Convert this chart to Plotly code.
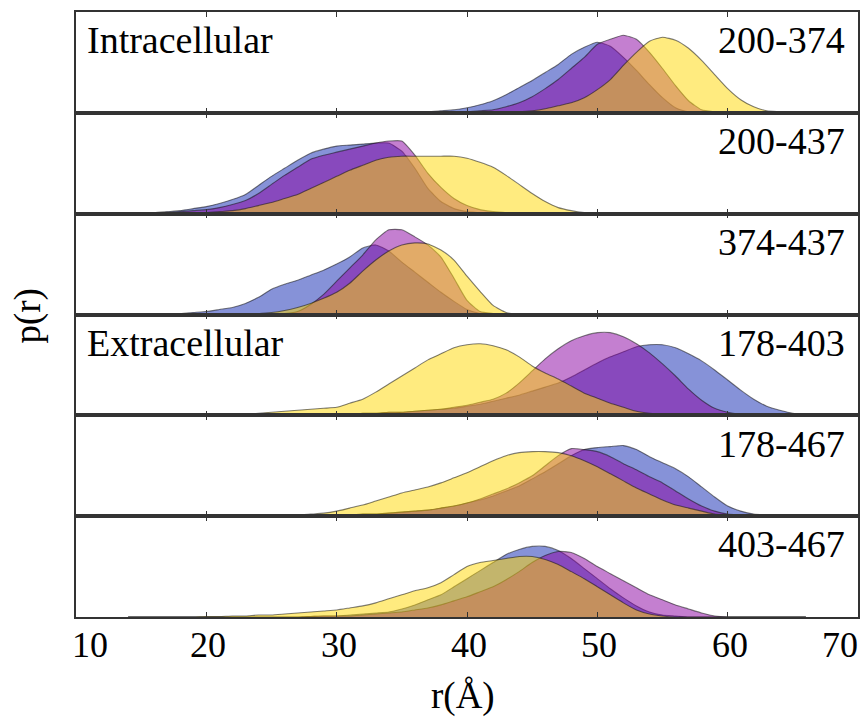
import plotly.graph_objects as go
from plotly.subplots import make_subplots

# distance grid r (Å), 14..66
R = list(range(14, 67))

PAIR_LABELS = ["200-374", "200-437", "374-437", "178-403", "178-467", "403-467"]
REGION_LABELS = ["Intracellular", "", "", "Extracellular", "", ""]
X_TICKS = [10, 20, 30, 40, 50, 60, 70]
X_TICK_TEXT = ["10", "20", "30", "40", "50", "60", "70"]

# ---- 200-374 ----
P1_BLUE = [0]*20 + [0, 0, 0.01, 0.01, 0.02, 0.03, 0.05, 0.08, 0.12, 0.18,
                    0.25, 0.32, 0.40, 0.48, 0.58, 0.65, 0.70, 0.66, 0.55, 0.42,
                    0.28, 0.15, 0.05, 0.01, 0, 0, 0, 0, 0, 0, 0, 0, 0]
P1_PURPLE = [0]*20 + [0, 0, 0, 0, 0, 0, 0.01, 0.02, 0.03, 0.06,
                      0.10, 0.16, 0.24, 0.33, 0.44, 0.55, 0.68, 0.73, 0.77, 0.73,
                      0.60, 0.44, 0.27, 0.12, 0.03, 0.01, 0, 0, 0, 0, 0, 0, 0]
P1_YELLOW = [0]*30 + [0.01, 0.02, 0.04, 0.07, 0.10, 0.15, 0.23, 0.33, 0.47, 0.60,
                      0.71, 0.75, 0.72, 0.64, 0.52, 0.38, 0.24, 0.13, 0.06, 0.02,
                      0.01, 0, 0]

# ---- 200-437 ----
P2_BLUE = [0, 0.01, 0.01, 0.02, 0.03, 0.05, 0.07, 0.10, 0.14, 0.19,
           0.28, 0.37, 0.45, 0.53, 0.60, 0.64, 0.67, 0.68, 0.69, 0.70,
           0.70, 0.62, 0.45, 0.25, 0.12, 0.05, 0.02, 0.01, 0, 0] + [0]*23
P2_PURPLE = [0, 0, 0.01, 0.01, 0.02, 0.03, 0.04, 0.06, 0.09, 0.13,
             0.20, 0.29, 0.38, 0.46, 0.54, 0.58, 0.61, 0.64, 0.67, 0.70,
             0.72, 0.72, 0.58, 0.40, 0.26, 0.15, 0.08, 0.04, 0.02, 0.01] + [0]*23
P2_YELLOW = [0, 0, 0, 0, 0, 0.01, 0.01, 0.02, 0.03, 0.05,
             0.08, 0.11, 0.15, 0.19, 0.25, 0.31, 0.37, 0.43, 0.48, 0.53,
             0.56, 0.57, 0.57, 0.57, 0.57, 0.57, 0.55, 0.51, 0.46, 0.38,
             0.29, 0.20, 0.12, 0.06, 0.03, 0.01, 0, 0, 0, 0] + [0]*13

# ---- 374-437 ----
P3_BLUE = [0, 0, 0, 0.01, 0.01, 0.02, 0.03, 0.05, 0.07, 0.11,
           0.17, 0.25, 0.30, 0.34, 0.39, 0.44, 0.50, 0.57, 0.66, 0.69,
           0.63, 0.52, 0.42, 0.32, 0.22, 0.13, 0.05, 0.01, 0, 0] + [0]*23
P3_PURPLE = [0]*10 + [0, 0, 0.01, 0.03, 0.10, 0.20, 0.33, 0.46, 0.59, 0.74,
                      0.84, 0.84, 0.77, 0.69, 0.57, 0.36, 0.14, 0.03, 0.01, 0] + [0]*23
P3_YELLOW = [0]*10 + [0.01, 0.02, 0.04, 0.07, 0.11, 0.16, 0.22, 0.31, 0.43, 0.54,
                      0.63, 0.69, 0.71, 0.70, 0.64, 0.54, 0.38, 0.23, 0.09, 0.02] + [0]*23

# ---- 178-403 ----
P4_BLUE = [0]*10 + [0, 0, 0, 0, 0.01, 0.01, 0.01, 0.01, 0.02, 0.02,
                    0.03, 0.03, 0.04, 0.05, 0.06, 0.07, 0.09, 0.11, 0.14, 0.17,
                    0.20, 0.24, 0.28, 0.32, 0.38, 0.45, 0.52, 0.58, 0.63, 0.68,
                    0.70, 0.70, 0.67, 0.61, 0.54, 0.45, 0.35, 0.25, 0.16, 0.09,
                    0.05, 0.02, 0.01]
P4_PURPLE = [0]*10 + [0, 0, 0, 0, 0, 0, 0.01, 0.01, 0.02, 0.02,
                      0.03, 0.03, 0.04, 0.05, 0.06, 0.08, 0.10, 0.13, 0.16, 0.22,
                      0.32, 0.44, 0.56, 0.66, 0.74, 0.79, 0.82, 0.82, 0.78, 0.71,
                      0.62, 0.51, 0.39, 0.26, 0.15, 0.07, 0.03, 0.01, 0, 0,
                      0, 0, 0]
P4_YELLOW = [0, 0, 0, 0, 0, 0, 0.01, 0.01, 0.01, 0.01,
             0.02, 0.03, 0.04, 0.05, 0.06, 0.07, 0.08, 0.12, 0.16, 0.23,
             0.31, 0.39, 0.47, 0.55, 0.61, 0.67, 0.70, 0.71, 0.69, 0.65,
             0.58, 0.49, 0.42, 0.36, 0.29, 0.22, 0.17, 0.12, 0.08, 0.04,
             0.02, 0.01, 0, 0, 0, 0, 0, 0, 0, 0,
             0, 0, 0]

# ---- 178-467 ----
P5_BLUE = [0]*10 + [0, 0, 0, 0, 0.005, 0.01, 0.01, 0.01, 0.02, 0.02,
                    0.03, 0.04, 0.05, 0.06, 0.08, 0.10, 0.13, 0.16, 0.20, 0.25,
                    0.30, 0.37, 0.44, 0.52, 0.60, 0.66, 0.68, 0.69, 0.70, 0.66,
                    0.59, 0.53, 0.47, 0.39, 0.29, 0.19, 0.10, 0.05, 0.02, 0.01,
                    0, 0, 0]
P5_PURPLE = [0]*10 + [0, 0, 0, 0, 0.005, 0.01, 0.01, 0.01, 0.02, 0.02,
                      0.03, 0.04, 0.05, 0.06, 0.08, 0.10, 0.13, 0.17, 0.22, 0.27,
                      0.33, 0.40, 0.50, 0.60, 0.67, 0.66, 0.64, 0.59, 0.52, 0.46,
                      0.39, 0.33, 0.25, 0.17, 0.10, 0.05, 0.02, 0.01, 0, 0,
                      0, 0, 0]
P5_YELLOW = [0, 0, 0, 0, 0, 0, 0, 0, 0, 0.005,
             0.005, 0.01, 0.01, 0.01, 0.02, 0.03, 0.05, 0.08, 0.11, 0.15,
             0.19, 0.23, 0.26, 0.29, 0.33, 0.38, 0.43, 0.49, 0.55, 0.60,
             0.63, 0.64, 0.64, 0.63, 0.60, 0.55, 0.49, 0.42, 0.35, 0.28,
             0.22, 0.16, 0.11, 0.08, 0.05, 0.02, 0.01, 0, 0, 0,
             0, 0, 0]

# ---- 403-467 ----
P6_BLUE = [0]*10 + [0, 0, 0, 0, 0.005, 0.01, 0.01, 0.02, 0.03, 0.04,
                    0.05, 0.08, 0.12, 0.17, 0.22, 0.30, 0.38, 0.46, 0.54, 0.62,
                    0.67, 0.70, 0.70, 0.66, 0.58, 0.48, 0.38, 0.28, 0.19, 0.11,
                    0.05, 0.02, 0.01, 0, 0, 0, 0, 0, 0, 0,
                    0, 0, 0]
P6_PURPLE = [0]*10 + [0, 0, 0, 0, 0.005, 0.01, 0.01, 0.01, 0.02, 0.03,
                      0.04, 0.05, 0.07, 0.09, 0.12, 0.16, 0.20, 0.25, 0.30, 0.37,
                      0.45, 0.54, 0.61, 0.65, 0.64, 0.58, 0.50, 0.43, 0.36, 0.29,
                      0.22, 0.17, 0.12, 0.08, 0.04, 0.01, 0, 0, 0, 0,
                      0, 0, 0]
P6_YELLOW = [0, 0, 0, 0, 0, 0, 0.005, 0.005, 0.01, 0.01,
             0.02, 0.02, 0.03, 0.04, 0.05, 0.06, 0.07, 0.09, 0.11, 0.14,
             0.18, 0.22, 0.26, 0.29, 0.34, 0.42, 0.50, 0.54, 0.56, 0.58,
             0.60, 0.60, 0.57, 0.52, 0.45, 0.38, 0.30, 0.22, 0.14, 0.07,
             0.03, 0.01, 0, 0, 0, 0, 0, 0, 0, 0,
             0, 0, 0]

PANELS = [
    (P1_BLUE, P1_PURPLE, P1_YELLOW),
    (P2_BLUE, P2_PURPLE, P2_YELLOW),
    (P3_BLUE, P3_PURPLE, P3_YELLOW),
    (P4_BLUE, P4_PURPLE, P4_YELLOW),
    (P5_BLUE, P5_PURPLE, P5_YELLOW),
    (P6_BLUE, P6_PURPLE, P6_YELLOW),
]
FILLS = ["rgba(13,37,177,0.5)", "rgba(137,0,161,0.5)", "rgba(255,215,0,0.5)"]
EDGE = "rgba(20,20,20,0.55)"
FONT = "Liberation Serif"
FRAME = "#333333"

fig = make_subplots(rows=6, cols=1, shared_xaxes=True, vertical_spacing=0)

for i, series in enumerate(PANELS):
    for vals, fc in zip(series, FILLS):
        fig.add_trace(go.Scatter(
            x=R, y=vals, mode="lines", fill="tozeroy", fillcolor=fc,
            line=dict(color=EDGE, width=1.1, shape="spline", smoothing=0.5),
            hoverinfo="skip", showlegend=False), row=i + 1, col=1)
    xa = "x" if i == 0 else f"x{i+1}"
    ya = "y" if i == 0 else f"y{i+1}"
    fig.add_annotation(text=PAIR_LABELS[i], xref=f"{xa} domain", yref=f"{ya} domain",
                       x=0.986, y=0.72, xanchor="right", yanchor="middle", showarrow=False,
                       font=dict(family=FONT, size=38, color="black"))
    if REGION_LABELS[i]:
        fig.add_annotation(text=REGION_LABELS[i], xref=f"{xa} domain", yref=f"{ya} domain",
                           x=0.012, y=0.72, xanchor="left", yanchor="middle", showarrow=False,
                           font=dict(family=FONT, size=38, color="black"))

fig.update_xaxes(range=[10, 70], tickvals=X_TICKS, ticks="inside", ticklen=5, tickwidth=1,
                 tickcolor=FRAME, showline=True, linecolor=FRAME, linewidth=1.5, mirror="allticks",
                 showgrid=False, zeroline=False, showticklabels=False)
fig.update_yaxes(range=[0, 1], showticklabels=False, ticks="", showline=True, linecolor=FRAME,
                 linewidth=1.5, mirror=True, showgrid=False, zeroline=False)

# tick labels of the shared r axis (edge labels nudged inside the frame)
for v, t in zip(X_TICKS, X_TICK_TEXT):
    shift = 14 if v == X_TICKS[0] else (-18 if v == X_TICKS[-1] else 2)
    fig.add_annotation(text=t, xref="x6", yref="paper", x=v, y=-0.046, xshift=shift,
                       xanchor="center", yanchor="middle", showarrow=False,
                       font=dict(family=FONT, size=36, color="black"))

fig.add_annotation(text="r(Å)", xref="paper", yref="paper", x=0.495, y=-0.13,
                   xanchor="center", yanchor="middle", showarrow=False,
                   font=dict(family=FONT, size=37, color="black"))
fig.add_annotation(text="p(r)", xref="paper", yref="paper", x=-0.062, y=0.4975,
                   xanchor="center", yanchor="middle", textangle=-90, showarrow=False,
                   font=dict(family=FONT, size=37, color="black"))

fig.update_layout(width=865, height=719, margin=dict(l=76, r=5, t=12, b=102),
                  plot_bgcolor="white", paper_bgcolor="white")

fig.write_html("out.html")
